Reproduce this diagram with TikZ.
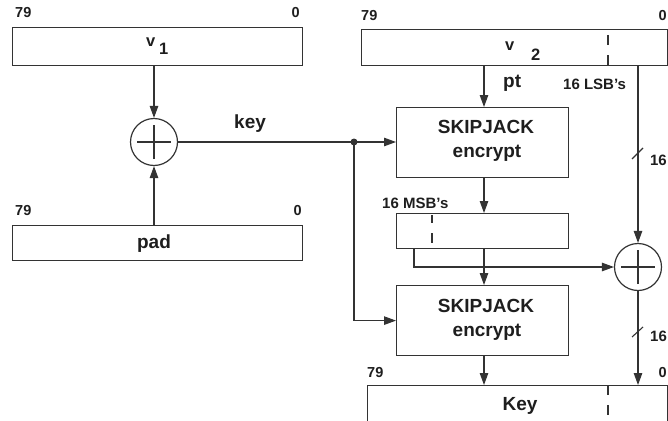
\documentclass[tikz,border=0pt]{standalone}
\usepackage{fontspec}
\setmainfont{Liberation Sans}
\usetikzlibrary{arrows.meta}
\definecolor{ink}{HTML}{333333}
\definecolor{txt}{HTML}{1E1E1E}

\begin{document}
\begin{tikzpicture}[x=1pt,y=-1pt,
  reg/.style={draw=ink, line width=1.2pt, inner sep=0pt, anchor=north west},
  conn/.style={draw=ink, line width=1.1pt},
  arr/.style={conn, -{Triangle[length=12pt,width=8.5pt]}},
  tick/.style={draw=ink, line width=1.1pt},
  xor/.style={circle, draw=ink, line width=1.2pt, minimum size=47pt, inner sep=0pt,
    path picture={\draw[ink, line width=1.1pt]
      ([xshift=-17pt]path picture bounding box.center) -- ([xshift=17pt]path picture bounding box.center)
      ([yshift=-17pt]path picture bounding box.center) -- ([yshift=17pt]path picture bounding box.center);}},
  small/.style={text=txt, inner sep=0pt, font=\bfseries\fontsize{14.5}{16}\selectfont},
  mid/.style={text=txt, inner sep=0pt, font=\bfseries\fontsize{15}{17}\selectfont},
  sym/.style={text=txt, inner sep=0pt, font=\bfseries\fontsize{16.5}{18}\selectfont},
  big/.style={text=txt, inner sep=0pt, font=\bfseries\fontsize{19}{22}\selectfont},
]
\useasboundingbox (0,0) rectangle (668,420);
\clip (0,0) rectangle (668,420);

% registers and cipher blocks
\node[reg, minimum width=290pt, minimum height=38pt] (v1) at (12,27) {};
\node[reg, minimum width=290pt, minimum height=35pt] (pad) at (12,225) {};
\node[reg, minimum width=306pt, minimum height=36pt] (v2) at (361,29) {};
\node[reg, minimum width=172pt, minimum height=70pt] (sk1) at (396,107) {};
\node[reg, minimum width=172pt, minimum height=35pt] (msb) at (396,213) {};
\node[reg, minimum width=172pt, minimum height=70pt] (sk2) at (396,285) {};
\node[reg, minimum width=300pt, minimum height=60pt] (key) at (367,385) {};

% exclusive-or gates
\node[xor] (x1) at (154,142) {};
\node[xor] (x2) at (638,267) {};

% helper points
\coordinate (dot) at (354,142);
\coordinate (colm) at (484,0);
\coordinate (coll) at (414,0);

% bit-range dividers
\draw[tick] (608,35) -- (608,45) (608,55) -- (608,65);
\draw[tick] (432,215) -- (432,223) (432,233) -- (432,243);
\draw[tick] (608,385) -- (608,395) (608,405) -- (608,415);

% bit indices
\node[small, anchor=base west] (i79a) at (15,18) {79};
\node[small, anchor=base east] (i0a) at (300,18) {0};
\node[small, anchor=base west] (i79b) at (15,215) {79};
\node[small, anchor=base east] (i0b) at (302,215) {0};
\node[small, anchor=base west] (i79c) at (361,21) {79};
\node[small, anchor=base east] (i0c) at (667,21) {0};
\node[small, anchor=base west] (i79d) at (367,377) {79};
\node[small, anchor=base east] (i0d) at (667,377) {0};

% register names
\node[sym, anchor=base west] (v1a) at (146,47) {v};
\node[sym, anchor=base west] (v1b) at (159,55) {1};
\node[sym, anchor=base west] (v2a) at (505,50) {v};
\node[sym, anchor=base west] (v2b) at (531,60) {2};
\node[big, anchor=base] (padt) at (154,248) {pad};
\node[big, anchor=base] (keyt) at (520,410) {Key};
\node[big, anchor=base] (sk1a) at (486,133) {SKIPJACK};
\node[big, anchor=base] (sk1b) at (487,157) {encrypt};
\node[big, anchor=base] (sk2a) at (486,312) {SKIPJACK};
\node[big, anchor=base] (sk2b) at (487,336) {encrypt};

% signal labels
\node[big, anchor=base west] (keyl) at (234,128) {key};
\node[big, anchor=base west] (ptl) at (503,87) {pt};
\node[mid, anchor=base west] (lsb) at (563,89) {16 LSB’s};
\node[mid, anchor=base west] (msbl) at (382,208) {16 MSB’s};
\node[mid, anchor=base east] (w1) at (667,165) {16};
\node[mid, anchor=base west] (w2) at (650,341) {16};

% connectors
\draw[arr] (x1 |- v1.south) -- (x1.north);
\draw[arr] (x1 |- pad.north) -- (x1.south);
\draw[arr] (x1.east) -- (dot) -- (sk1.west |- dot);
\draw[arr] (dot) -- (dot |- sk2.west) -- (sk2.west);
\fill[ink] (dot) circle (3.5pt);
\draw[arr] (colm |- v2.south) -- (colm |- sk1.north);
\draw[arr] (colm |- sk1.south) -- (colm |- msb.north);
\draw[arr] (colm |- msb.south) -- (colm |- sk2.north);
\draw[arr] (colm |- sk2.south) -- (colm |- key.north);
\draw[arr] (coll |- msb.south) -- (coll |- x2.west) -- (x2.west);
\draw[arr] (x2 |- v2.south) -- (x2.north);
\draw[arr] (x2.south) -- (x2 |- key.north);

% bus-width slashes
\draw[tick] (632,159) -- (643,148);
\draw[tick] (632,337) -- (643,327);
\end{tikzpicture}
\end{document}
